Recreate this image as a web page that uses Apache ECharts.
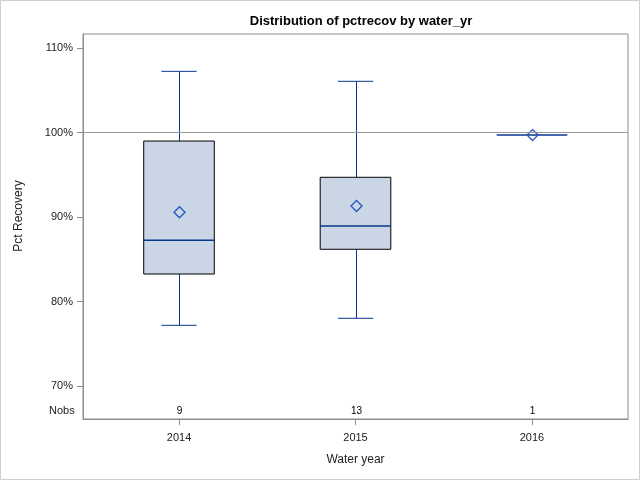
<!DOCTYPE html>
<html>
<head>
<meta charset="utf-8">
<script src="https://cdn.jsdelivr.net/npm/echarts@6/dist/echarts.min.js"></script>
<style>
html,body{margin:0;padding:0;background:#fff;}
#chart{width:640px;height:480px;}
</style>
</head>
<body>
<div id="chart"></div>
<script>
const years = [2014, 2015, 2016];
const whiskerLow = [77.18, 78.01, 99.70];
const q1 = [83.25, 86.18, 99.70];
const median = [87.24, 88.93, 99.70];
const q3 = [98.99, 94.70, 99.70];
const whiskerHigh = [107.24, 106.06, 99.70];
const means = [90.56, 91.30, 99.70];
const nobs = [9, 13, 1];
const yTicks = [70, 80, 90, 100, 110];
const refValue = 100;

const FONT = '"Liberation Sans", Arial, sans-serif';
const WHISK = '#0a3590';
const TXT = '#222';
const chart = echarts.init(document.getElementById('chart'), null, {renderer: 'canvas'});

const data = years.map((y, i) => [y, whiskerLow[i], q1[i], median[i], q3[i], whiskerHigh[i], means[i], nobs[i]]);

function renderBox(params, api) {
  const x = api.value(0);
  const lo = api.value(1), b1 = api.value(2), md = api.value(3), b3 = api.value(4), hi = api.value(5), mn = api.value(6), n = api.value(7);
  const halfW = 0.2, capW = 0.1;
  const pL = api.coord([x - halfW, b1]);
  const pR = api.coord([x + halfW, b3]);
  const cx = Math.round(api.coord([x, md])[0]) + 0.5;
  const yLo = api.coord([x, lo])[1], yHi = api.coord([x, hi])[1];
  const yQ1 = api.coord([x, b1])[1], yQ3 = api.coord([x, b3])[1], yMd = api.coord([x, md])[1], yMn = api.coord([x, mn])[1];
  const cL = api.coord([x - capW, lo])[0], cR = api.coord([x + capW, lo])[0];
  const cs = params.coordSys;
  const children = [];
  const wStyle = {stroke: WHISK, lineWidth: 1};
  if (hi > b3) {
    children.push({type: 'line', shape: {x1: cx, y1: yHi, x2: cx, y2: yQ3}, style: wStyle});
    children.push({type: 'line', shape: {x1: cL, y1: yHi, x2: cR, y2: yHi}, style: wStyle});
  }
  if (lo < b1) {
    children.push({type: 'line', shape: {x1: cx, y1: yLo, x2: cx, y2: yQ1}, style: wStyle});
    children.push({type: 'line', shape: {x1: cL, y1: yLo, x2: cR, y2: yLo}, style: wStyle});
  }
  if (b3 > b1) {
    children.push({type: 'rect', shape: {x: pL[0], y: yQ3, width: pR[0] - pL[0], height: yQ1 - yQ3},
      style: {fill: '#cad5e5', stroke: '#000', lineWidth: 1}});
  }
  children.push({type: 'line', shape: {x1: pL[0], y1: yMd, x2: pR[0], y2: yMd}, style: {stroke: WHISK, lineWidth: 1.5}});
  const d = 5.5;
  children.push({type: 'polygon', shape: {points: [[cx, yMn - d], [cx + d, yMn], [cx, yMn + d], [cx - d, yMn]]},
    style: {fill: 'none', stroke: '#2455c3', lineWidth: 1.3}});
  children.push({type: 'text', style: {text: String(n), x: cx, y: cs.y + cs.height - 8, align: 'center', verticalAlign: 'middle',
    font: '10px ' + FONT, fill: '#000'}});
  return {type: 'group', children: children};
}

const option = {
  backgroundColor: '#fff',
  animation: false,
  title: {
    text: 'Distribution of pctrecov by water_yr',
    left: 356, top: 10, textAlign: 'center',
    textStyle: {fontFamily: FONT, fontSize: 13, fontWeight: 'bold', color: '#000'}
  },
  grid: {left: 83, right: 12, top: 34, bottom: 61, show: true, borderColor: '#8c8c8c', borderWidth: 1, backgroundColor: 'transparent'},
  xAxis: {
    type: 'value', min: 2013.456, max: 2016.544,
    name: 'Water year', nameLocation: 'middle', nameGap: 35,
    nameTextStyle: {fontFamily: FONT, fontSize: 12, color: TXT},
    axisLine: {show: true, lineStyle: {color: '#8c8c8c'}},
    axisTick: {show: true, length: 6, customValues: years, lineStyle: {color: '#8c8c8c'}},
    axisLabel: {customValues: years, margin: 13, fontFamily: FONT, fontSize: 11, color: TXT, formatter: v => String(v)},
    splitLine: {show: false}
  },
  yAxis: {
    type: 'value', min: 66.09, max: 111.66,
    axisLine: {show: true, lineStyle: {color: '#8c8c8c'}},
    axisTick: {show: true, length: 6, customValues: yTicks, lineStyle: {color: '#8c8c8c'}},
    axisLabel: {customValues: yTicks, margin: 10, fontFamily: FONT, fontSize: 11, color: TXT, formatter: v => v + '%'},
    splitLine: {show: false}
  },
  graphic: [
    {type: 'rect', shape: {x: 0.5, y: 0.5, width: 639, height: 479}, style: {fill: 'none', stroke: '#cfcfcf', lineWidth: 1}, silent: true, z: 100},
    {type: 'text', left: 49, top: 405, style: {text: 'Nobs', font: '11px ' + FONT, fill: TXT}},
    {type: 'text', x: 19, y: 216, rotation: Math.PI / 2, style: {text: 'Pct Recovery', font: '12px ' + FONT, fill: TXT, align: 'center', verticalAlign: 'middle'}}
  ],
  series: [
    {
      type: 'line', data: [], silent: true,
      markLine: {symbol: 'none', silent: true, label: {show: false}, lineStyle: {color: '#999', type: 'solid', width: 1}, data: [{yAxis: refValue}]}
    },
    {
      type: 'custom', renderItem: renderBox, data: data, encode: {x: 0, y: [1, 2, 3, 4, 5]}, z: 3
    }
  ]
};
chart.setOption(option);
</script>
</body>
</html>
